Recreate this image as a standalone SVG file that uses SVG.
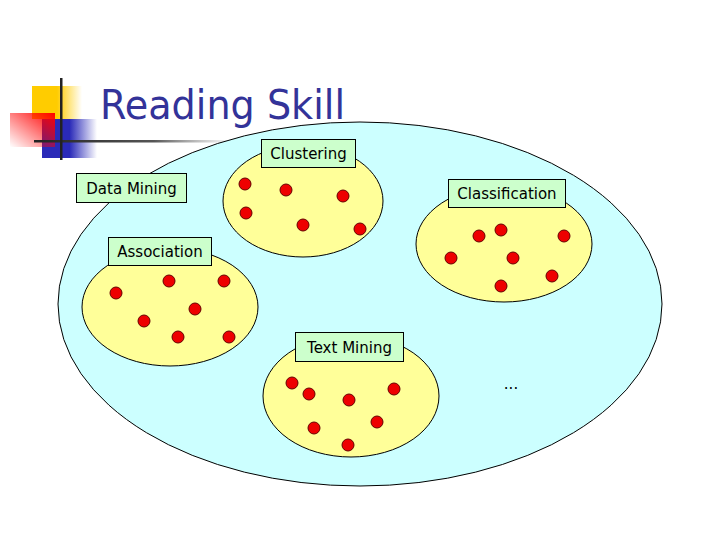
<svg xmlns="http://www.w3.org/2000/svg" width="720" height="540" viewBox="0 0 720 540">
<defs>
<linearGradient id="gy" x1="0" y1="0" x2="1" y2="0"><stop offset="0" stop-color="#ffcc00"/><stop offset="0.5" stop-color="#ffcc00"/><stop offset="1" stop-color="#ffcc00" stop-opacity="0"/></linearGradient>
<linearGradient id="gr" x1="1" y1="0" x2="0" y2="1"><stop offset="0" stop-color="#ff0000"/><stop offset="1" stop-color="#ff0000" stop-opacity="0"/></linearGradient>
<linearGradient id="gb" x1="0" y1="0" x2="1" y2="0"><stop offset="0" stop-color="#2a2ab8"/><stop offset="0.5" stop-color="#2a2ab8"/><stop offset="1" stop-color="#2a2ab8" stop-opacity="0"/></linearGradient>
<linearGradient id="gl" x1="0" y1="0" x2="1" y2="0"><stop offset="0" stop-color="#222"/><stop offset="0.6" stop-color="#555"/><stop offset="1" stop-color="#888" stop-opacity="0"/></linearGradient>
</defs>
<style>
.big{fill:#ccffff;stroke:#000;stroke-width:1}
.grp{fill:#ffff99;stroke:#000;stroke-width:1}
.dot{fill:#ee0000;stroke:#660000;stroke-width:1}
.lbl rect{fill:#ccffcc;stroke:#000;stroke-width:1}
.lbl text{font-family:"DejaVu Sans",sans-serif;font-size:15px;fill:#000;text-anchor:middle}
</style>
<rect width="720" height="540" fill="#fff"/>
<g id="decoration">
<rect x="32" y="86" width="50" height="33" fill="url(#gy)"/>
<rect x="42" y="119" width="55" height="39" fill="url(#gb)"/>
<rect x="10" y="113" width="45" height="34" fill="url(#gr)"/>
<rect x="34" y="140" width="200" height="2.5" fill="url(#gl)"/>
<rect x="60" y="78" width="2.5" height="82" fill="#222"/>
</g>
<text x="100" y="119" font-family="Tahoma, 'DejaVu Sans', sans-serif" font-size="40" fill="#333399" textLength="245" lengthAdjust="spacingAndGlyphs">Reading Skill</text>
<g id="datamining">
<ellipse class="big" cx="360" cy="304" rx="302" ry="182"/>
</g>
<g id="clustering">
<ellipse class="grp" cx="303" cy="201" rx="80" ry="56"/>
<circle class="dot" cx="245" cy="184" r="6"/><circle class="dot" cx="286" cy="190" r="6"/><circle class="dot" cx="343" cy="196" r="6"/>
<circle class="dot" cx="246" cy="213" r="6"/><circle class="dot" cx="303" cy="225" r="6"/><circle class="dot" cx="360" cy="229" r="6"/>
</g>
<g id="classification">
<ellipse class="grp" cx="504" cy="244" rx="88" ry="58"/>
<circle class="dot" cx="479" cy="236" r="6"/><circle class="dot" cx="501" cy="230" r="6"/><circle class="dot" cx="564" cy="236" r="6"/>
<circle class="dot" cx="451" cy="258" r="6"/><circle class="dot" cx="513" cy="258" r="6"/><circle class="dot" cx="552" cy="276" r="6"/><circle class="dot" cx="501" cy="286" r="6"/>
</g>
<g id="association">
<ellipse class="grp" cx="170" cy="307" rx="88" ry="59"/>
<circle class="dot" cx="116" cy="293" r="6"/><circle class="dot" cx="169" cy="281" r="6"/><circle class="dot" cx="224" cy="281" r="6"/>
<circle class="dot" cx="195" cy="309" r="6"/><circle class="dot" cx="144" cy="321" r="6"/><circle class="dot" cx="178" cy="337" r="6"/><circle class="dot" cx="229" cy="337" r="6"/>
</g>
<g id="textmining">
<ellipse class="grp" cx="351" cy="396" rx="88" ry="61"/>
<circle class="dot" cx="292" cy="383" r="6"/><circle class="dot" cx="309" cy="394" r="6"/><circle class="dot" cx="349" cy="400" r="6"/>
<circle class="dot" cx="394" cy="389" r="6"/><circle class="dot" cx="314" cy="428" r="6"/><circle class="dot" cx="377" cy="422" r="6"/><circle class="dot" cx="348" cy="445" r="6"/>
</g>
<g id="labels">
<g class="lbl" id="lbl-datamining"><rect x="76.500" y="173.500" width="110" height="29"/><text x="131.500" y="194">Data Mining</text></g>
<g class="lbl" id="lbl-clustering"><rect x="261.500" y="139.500" width="94" height="28"/><text x="308.500" y="159">Clustering</text></g>
<g class="lbl" id="lbl-classification"><rect x="448.500" y="179.500" width="117" height="28"/><text x="507" y="199">Classification</text></g>
<g class="lbl" id="lbl-association"><rect x="108.500" y="237.500" width="103" height="28"/><text x="160" y="257">Association</text></g>
<g class="lbl" id="lbl-textmining"><rect x="295.500" y="332.500" width="108" height="29"/><text x="349.500" y="353">Text Mining</text></g>
</g>
<text x="511" y="389" font-family="'DejaVu Sans',sans-serif" font-size="15" text-anchor="middle" fill="#000">...</text>
</svg>
